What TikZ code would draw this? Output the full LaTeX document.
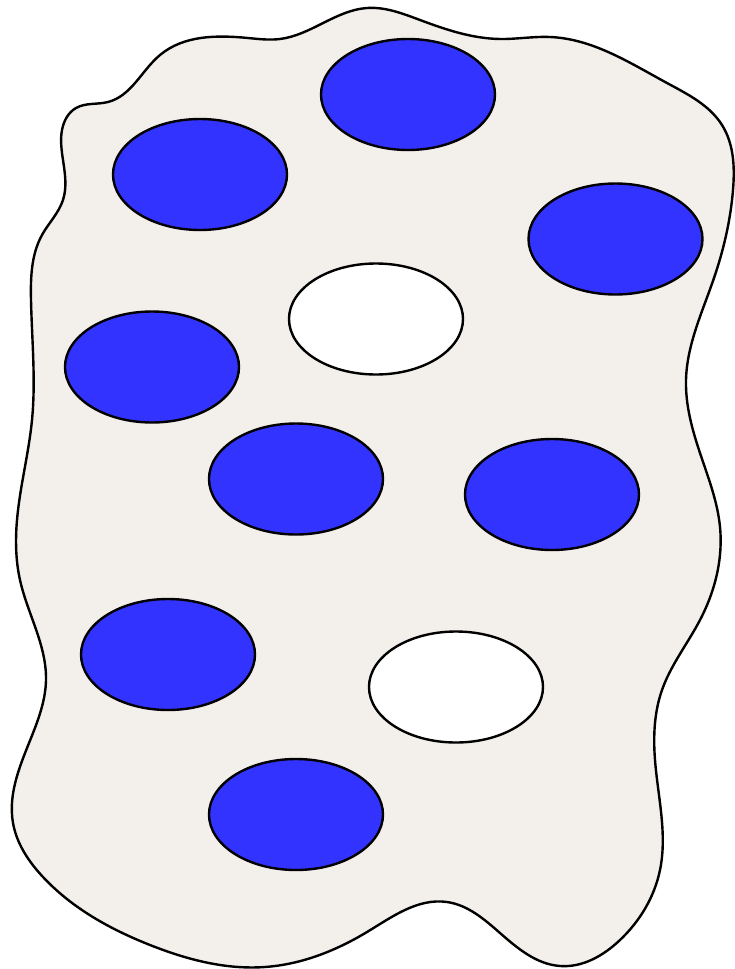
\documentclass[tikz,border=0pt]{standalone}
\usetikzlibrary{shapes.geometric,hobby}
\definecolor{blobfill}{RGB}{243,239,235}
\definecolor{dotblue}{RGB}{51,51,255}
\tikzset{
  blob/.style={draw=black, line width=2.4pt, fill=blobfill},
  cellbase/.style={ellipse, draw=black, line width=2.4pt, minimum width=174pt, minimum height=111pt, inner sep=0pt},
  bluecell/.style={cellbase, fill=dotblue},
  whitecell/.style={cellbase, fill=white}
}
\begin{document}
\begin{tikzpicture}[x=1pt,y=-1pt]
\useasboundingbox (0,0) rectangle (734,969);
\draw[blob, use Hobby shortcut, closed=true]
(62,130) .. (76,108) .. (108,102) .. (160,55) .. (248,38) .. (280,39) .. (367,8) .. (420,20) .. (500,39) .. (550,37) .. (667,83) .. (722,125) .. (733,190) .. (714,278) .. (686,380) .. (700,453) .. (720,527) .. (700,620) .. (662,690) .. (655,760) .. (660,870) .. (620,940) .. (560,966) .. (500,933) .. (447,902) .. (367,932) .. (265,967) .. (150,945) .. (43,877) .. (13,823) .. (33,733) .. (46,680) .. (20,580) .. (17,520) .. (32,420) .. (31,300) .. (42,235) .. (63,200) .. (63,160);
\node[bluecell] (b1) at (408,94.5) {};
\node[bluecell] (b2) at (200,174.5) {};
\node[bluecell] (b3) at (615.5,239) {};
\node[whitecell] (w1) at (376,319) {};
\node[bluecell] (b4) at (152,367) {};
\node[bluecell] (b5) at (296,479) {};
\node[bluecell] (b6) at (552,494.5) {};
\node[bluecell] (b7) at (168,654.5) {};
\node[whitecell] (w2) at (456,687) {};
\node[bluecell] (b8) at (296,814.5) {};
\end{tikzpicture}
\end{document}
